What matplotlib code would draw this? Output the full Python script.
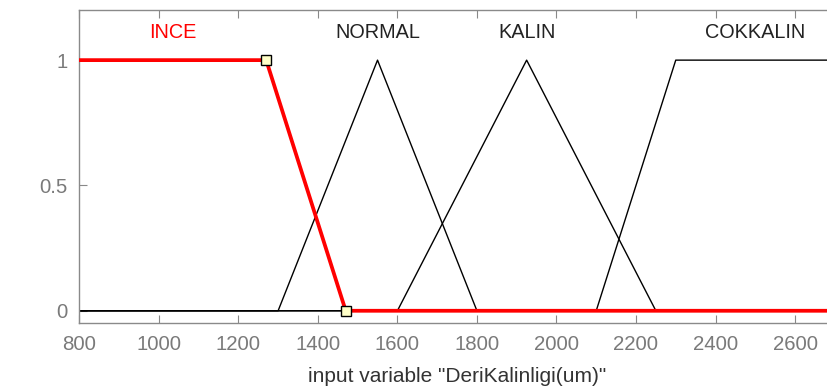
import numpy as np
from matplotlib import pyplot as plt

# membership functions of input variable DeriKalinligi(um), range 800..2700
x_range = [800, 2700]
mf_names = ["INCE", "NORMAL", "KALIN", "COKKALIN"]
ince_x = [800, 1270, 1470, 2700]
ince_y = [1, 1, 0, 0]
normal_x = [800, 1300, 1550, 1800, 2700]
normal_y = [0, 0, 1, 0, 0]
kalin_x = [800, 1600, 1925, 2250, 2700]
kalin_y = [0, 0, 1, 0, 0]
cokkalin_x = [800, 2100, 2300, 2700]
cokkalin_y = [0, 0, 1, 1]
# label position (centre of each mf's core)
label_x = [1035, 1550, 1925, 2500]
label_y = 1.11
x_ticks = [800, 1000, 1200, 1400, 1600, 1800, 2000, 2200, 2400, 2600]
y_ticks = [0, 0.5, 1]
y_ticklabels = ["0", "0.5", "1"]

plt.rcParams['font.family'] = ['Liberation Sans', 'DejaVu Sans']

fig = plt.figure(figsize=(8.28, 3.92), dpi=100)
ax = fig.add_axes([79.3 / 828, 68.7 / 392, 755.5 / 828, 313.3 / 392])

ax.plot(normal_x, normal_y, color='black', lw=1.0)
ax.plot(kalin_x, kalin_y, color='black', lw=1.0)
ax.plot(cokkalin_x, cokkalin_y, color='black', lw=1.0)
ax.plot(ince_x, ince_y, color='red', lw=2.7, zorder=3)
# handles on the selected mf
ax.plot(ince_x[1:3], ince_y[1:3], ls='none', marker='s', ms=7,
        mfc='#ffffc8', mec='black', mew=1.0, zorder=4)

colors = ['red', '#222222', '#222222', '#222222']
for name, lx, c in zip(mf_names, label_x, colors):
    ax.text(lx, label_y, name, color=c, ha='center', va='center',
            fontsize=14.3)

ax.set_xlim(x_range)
ax.set_ylim(-0.05, 1.2)
ax.set_xticks(x_ticks)
ax.set_yticks(y_ticks)
ax.set_yticklabels(y_ticklabels)
ax.tick_params(direction='in', length=5.5, width=0.8, color='#888888',
               labelcolor='#7a7a7a', labelsize=14.7, pad=8.5,
               top=True, right=True)
for s in ax.spines.values():
    s.set_color('#8a8a8a')
    s.set_linewidth(1.0)
ax.set_xlabel('input variable "DeriKalinligi(um)"', fontsize=15,
              color='#333333', labelpad=9)

fig.savefig('out.png', dpi=100)
